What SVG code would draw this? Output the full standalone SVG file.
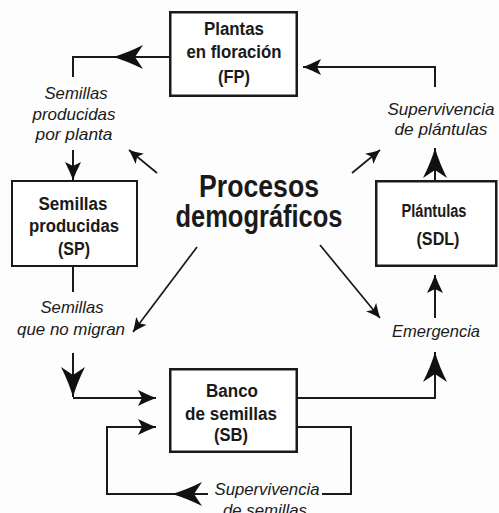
<svg xmlns="http://www.w3.org/2000/svg" width="499" height="513" viewBox="0 0 499 513">
<style>
.box{fill:#fff;stroke:#1a1a1a;stroke-width:2.5}
.bt{font-family:"Liberation Sans",Arial,sans-serif;font-weight:bold;font-size:18px;fill:#1a1a1a;text-anchor:middle}
.lb{font-family:"Liberation Sans",Arial,sans-serif;font-style:italic;font-size:17px;fill:#1a1a1a;text-anchor:middle}
.tt{font-family:"Liberation Sans",Arial,sans-serif;font-weight:bold;font-size:32px;fill:#1a1a1a;text-anchor:middle}
.c{fill:none;stroke:#1a1a1a;stroke-width:2}
.c1{fill:none;stroke:#1a1a1a;stroke-width:1.7}
</style>
<defs>
<marker id="big" markerUnits="userSpaceOnUse" viewBox="-31 -13 32 26" refX="0" refY="0" markerWidth="32" markerHeight="26" orient="auto" overflow="visible">
<path d="M0,0 Q-14,-4 -30,-12 L-22,0 L-30,12 Q-14,4 0,0 Z" fill="#111"/>
</marker>
<marker id="med" markerUnits="userSpaceOnUse" viewBox="-19 -9 20 18" refX="0" refY="0" markerWidth="20" markerHeight="18" orient="auto" overflow="visible">
<path d="M0,0 Q-8,-3 -18,-8 L-14,0 L-18,8 Q-8,3 0,0 Z" fill="#111"/>
</marker>
<marker id="sm" markerUnits="userSpaceOnUse" viewBox="-15 -7 16 14" refX="0" refY="0" markerWidth="16" markerHeight="14" orient="auto" overflow="visible">
<path d="M0,0 Q-6,-2.5 -14,-6.5 L-10.5,0 L-14,6.5 Q-6,2.5 0,0 Z" fill="#111"/>
</marker>
</defs>
<rect width="499" height="513" fill="#fdfdfd"/>
<g id="connectors">
<path class="c" d="M169,57 H113" marker-end="url(#big)"/>
<path class="c" d="M113,57 H73 V77"/>
<path class="c" d="M73,150 V180" marker-end="url(#med)"/>
<path class="c" d="M73,267 V292"/>
<path class="c" d="M73,353 V397" marker-end="url(#big)"/>
<path class="c" d="M73,398 H156" marker-end="url(#med)"/>
<path class="c" d="M298,427 H351 V494 H322"/>
<path class="c" d="M208,494 H172" marker-end="url(#big)"/>
<path class="c" d="M172,494 H107 V427 H156" marker-end="url(#med)"/>
<path class="c" d="M298,398 H435 V352" marker-end="url(#big)"/>
<path class="c" d="M435,318 V275" marker-end="url(#med)"/>
<path class="c" d="M435,181 V148" marker-end="url(#big)"/>
<path class="c" d="M435,87 V67 H303" marker-end="url(#med)"/>
<path class="c1" d="M157,173 L129,150" marker-end="url(#sm)"/>
<path class="c1" d="M352,173 L380,150" marker-end="url(#sm)"/>
<path class="c1" d="M197,247 L133,332" marker-end="url(#sm)"/>
<path class="c1" d="M320,245 L380,318" marker-end="url(#sm)"/>
</g>
<g id="FP">
<rect class="box" x="170.25" y="12.25" width="126.5" height="83.5"/>
<text class="bt" x="234" y="35" textLength="60" lengthAdjust="spacingAndGlyphs">Plantas</text>
<text class="bt" x="234" y="58" textLength="95" lengthAdjust="spacingAndGlyphs">en floración</text>
<text class="bt" x="234" y="83" textLength="32" lengthAdjust="spacingAndGlyphs">(FP)</text>
</g>
<g id="SP">
<rect x="12" y="181" width="125" height="85" fill="#fff" stroke="#1a1a1a" stroke-width="2"/>
<text class="bt" x="73" y="210" textLength="69" lengthAdjust="spacingAndGlyphs">Semillas</text>
<text class="bt" x="74" y="232" textLength="90" lengthAdjust="spacingAndGlyphs">producidas</text>
<text class="bt" x="74" y="255" textLength="32" lengthAdjust="spacingAndGlyphs">(SP)</text>
</g>
<g id="SDL">
<rect class="box" x="376.25" y="181.25" width="120" height="84.5"/>
<text class="bt" x="434" y="217" textLength="65" lengthAdjust="spacingAndGlyphs">Plántulas</text>
<text class="bt" x="438" y="245" textLength="43" lengthAdjust="spacingAndGlyphs">(SDL)</text>
</g>
<g id="SB">
<rect class="box" x="170.25" y="369.25" width="126.5" height="82.5"/>
<text class="bt" x="232" y="397" textLength="52" lengthAdjust="spacingAndGlyphs">Banco</text>
<text class="bt" x="231" y="420" textLength="92" lengthAdjust="spacingAndGlyphs">de semillas</text>
<text class="bt" x="231" y="441" textLength="34" lengthAdjust="spacingAndGlyphs">(SB)</text>
</g>
<g id="title">
<text class="tt" x="259" y="197" textLength="120" lengthAdjust="spacingAndGlyphs">Procesos</text>
<text class="tt" x="259" y="227" textLength="167" lengthAdjust="spacingAndGlyphs">demográficos</text>
</g>
<g id="labels">
<text class="lb" x="76" y="99" textLength="63" lengthAdjust="spacingAndGlyphs">Semillas</text>
<text class="lb" x="74" y="120" textLength="83" lengthAdjust="spacingAndGlyphs">producidas</text>
<text class="lb" x="74" y="140" textLength="77" lengthAdjust="spacingAndGlyphs">por planta</text>
<text class="lb" x="441" y="115" textLength="107" lengthAdjust="spacingAndGlyphs">Supervivencia</text>
<text class="lb" x="441" y="135" textLength="93" lengthAdjust="spacingAndGlyphs">de plántulas</text>
<text class="lb" x="72" y="313" textLength="63" lengthAdjust="spacingAndGlyphs">Semillas</text>
<text class="lb" x="71" y="335" textLength="108" lengthAdjust="spacingAndGlyphs">que no migran</text>
<text class="lb" x="436" y="337" textLength="88" lengthAdjust="spacingAndGlyphs">Emergencia</text>
<text class="lb" x="267" y="495" textLength="105" lengthAdjust="spacingAndGlyphs">Supervivencia</text>
<text class="lb" x="265" y="516" textLength="84" lengthAdjust="spacingAndGlyphs">de semillas</text>
</g>
</svg>
